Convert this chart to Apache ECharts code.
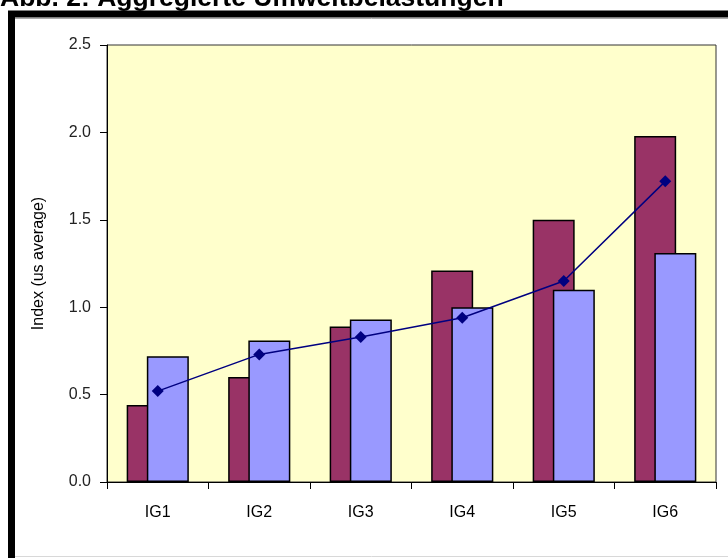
<!DOCTYPE html>
<html>
<head>
<meta charset="utf-8">
<script src="https://cdn.jsdelivr.net/npm/echarts@6/dist/echarts.min.js"></script>
<style>
  html, body { margin: 0; padding: 0; background: #fff; }
  #main { width: 728px; height: 558px; }
</style>
</head>
<body>
<div id="main"></div>
<script>
// Kategorien und Werte
var categories = ['IG1', 'IG2', 'IG3', 'IG4', 'IG5', 'IG6'];
var seriesA = [0.44, 0.60, 0.89, 1.21, 1.50, 1.98];
var seriesB = [0.72, 0.81, 0.93, 1.00, 1.10, 1.31];
var lineValues = [0.52, 0.73, 0.83, 0.94, 1.15, 1.72];
var yTicks = [0, 0.5, 1.0, 1.5, 2.0, 2.5];

var myChart = echarts.init(document.getElementById('main'));

var option = {
  backgroundColor: '#ffffff',
  animation: false,
  title: {
    text: 'Abb. 2: Aggregierte Umweltbelastungen',
    left: 0,
    top: -15,
    padding: 0,
    textStyle: {
      fontFamily: 'Liberation Sans, Arial',
      fontWeight: 'bold',
      fontSize: 26.5,
      color: '#000'
    }
  },
  // Rahmen wie im Original
  graphic: [
    {
      type: 'rect',
      shape: { x: 11.5, y: 14, width: 900, height: 700 },
      style: { fill: 'none', stroke: '#000', lineWidth: 7 },
      z: 100
    },
    {
      type: 'line',
      shape: { x1: 15, y1: 18.5, x2: 728, y2: 18.5 },
      style: { stroke: '#aaa', lineWidth: 1 }
    },
    {
      type: 'line',
      shape: { x1: 15, y1: 556.5, x2: 728, y2: 556.5 },
      style: { stroke: '#d8d8d8', lineWidth: 1 }
    }
  ],
  grid: {
    left: 107,
    right: 12,
    top: 45,
    bottom: 76,
    show: true,
    backgroundColor: '#FFFFCC',
    borderColor: '#333',
    borderWidth: 1
  },
  xAxis: {
    type: 'category',
    data: categories,
    axisLine: { lineStyle: { color: '#000', width: 1 } },
    axisTick: { show: true, length: 7, lineStyle: { color: '#000' } },
    axisLabel: {
      margin: 23,
      color: '#000',
      fontFamily: 'Liberation Sans, Arial',
      fontSize: 16
    }
  },
  yAxis: {
    type: 'value',
    min: 0,
    max: yTicks[yTicks.length - 1],
    interval: 0.5,
    name: 'Index (us average)',
    nameLocation: 'middle',
    nameRotate: 90,
    nameGap: 60,
    nameTextStyle: {
      fontFamily: 'Liberation Sans, Arial',
      fontSize: 16,
      color: '#000'
    },
    splitLine: { show: false },
    axisLine: { show: true, lineStyle: { color: '#000', width: 1 } },
    axisTick: { show: true, length: 7, lineStyle: { color: '#000' } },
    axisLabel: {
      margin: 16,
      color: '#222',
      fontFamily: 'Liberation Sans, Arial',
      fontSize: 16,
      formatter: function (v) { return v.toFixed(1); }
    }
  },
  series: [
    {
      name: 'A',
      type: 'bar',
      data: seriesA,
      barWidth: 42,
      barGap: '-52%',
      itemStyle: { color: '#993366', borderColor: '#000', borderWidth: 1.5 },
      z: 2
    },
    {
      name: 'B',
      type: 'bar',
      data: seriesB,
      barWidth: 42,
      itemStyle: { color: '#9999FF', borderColor: '#000', borderWidth: 1.5 },
      z: 3
    },
    {
      name: 'Index',
      type: 'line',
      data: lineValues,
      symbol: 'diamond',
      symbolSize: 12,
      lineStyle: { color: '#000080', width: 1.5 },
      itemStyle: { color: '#000080' },
      z: 5
    }
  ]
};

myChart.setOption(option);
</script>
</body>
</html>
